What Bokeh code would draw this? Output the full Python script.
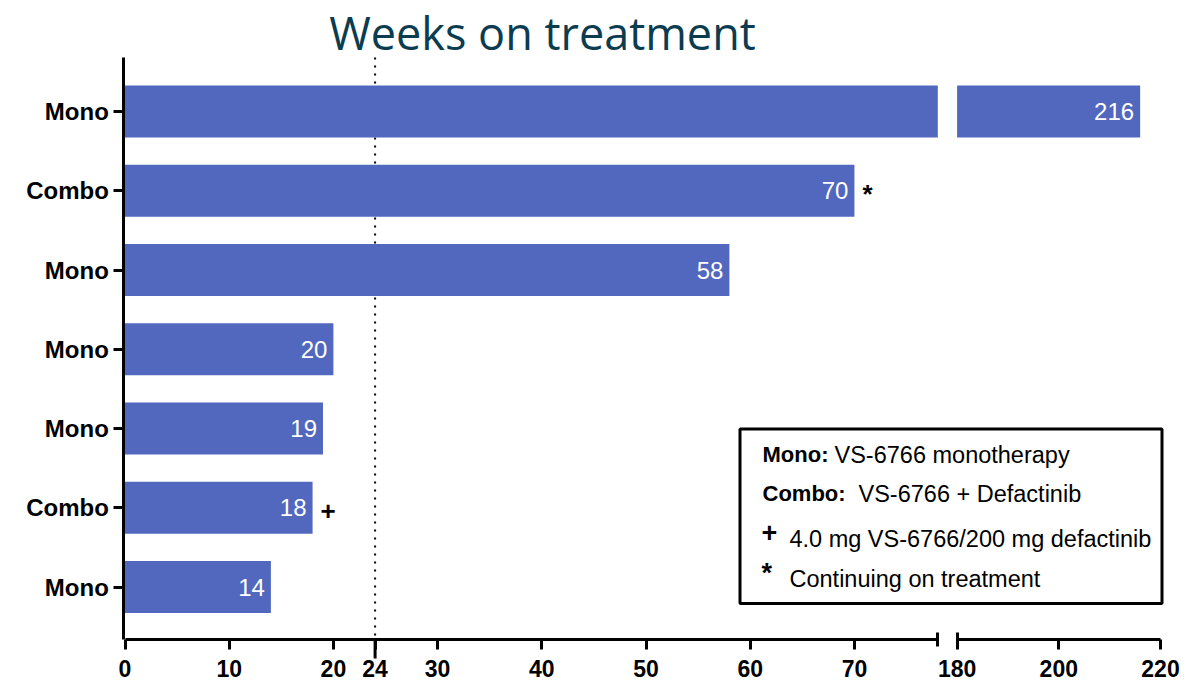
from bokeh.plotting import figure
from bokeh.models import (Range1d, LinearAxis, FixedTicker, BoxAnnotation,
                          ColumnDataSource)
from bokeh.core.properties import value
from bokeh.embed import file_html
from bokeh.resources import INLINE

# ---------------- data ----------------
arms = ["Mono", "Combo", "Mono", "Mono", "Mono", "Combo", "Mono"]
weeks = [216, 70, 58, 20, 19, 18, 14]
notes = ["", "*", "", "", "", "+", ""]
left_ticks = [0, 10, 20, 24, 30, 40, 50, 60, 70]
right_ticks = [180, 200, 220]
break_lo = 78
break_hi = 180
axis_max = 220
ref_week = 24
legend_keys = ["Mono:", "Combo:", "+", "*"]
legend_descs = ["VS-6766 monotherapy", "VS-6766 + Defactinib",
                "4.0 mg VS-6766/200 mg defactinib", "Continuing on treatment"]
title_text = "Weeks on treatment"

# ---------------- layout (pixel anchors, canvas px) ----------------
W, H = 1200, 682
X0, XLO, XHI, XMAX = 124.5, 937.3, 956.6, 1160.0
YTOP, ROW0, ROWSTEP, YAXIS = 57.0, 111.0, 79.25, 638.5

k1 = (XLO - X0) / break_lo
k2 = (XMAX - XHI) / (axis_max - break_hi)
# the frame spans the whole canvas; axes are pinned inside it
left_range = Range1d(-X0 / k1, (W - X0) / k1)
right_range = Range1d(break_hi - XHI / k2, axis_max + (W - XMAX) / k2)

def xl(px):
    return (px - X0) / k1

def yl(py):
    return (py - ROW0) / ROWSTEP

y_top = yl(YTOP)
y_axis = yl(YAXIS)

BAR = "#5168BE"
FONT = "Liberation Sans"
rows = list(range(len(arms)))

p = figure(width=W, height=H, output_backend="svg", toolbar_location=None,
           x_range=left_range, y_range=Range1d(yl(H), yl(0)),
           min_border_left=0, min_border_right=0,
           min_border_top=0, min_border_bottom=0,
           x_axis_type=None, y_axis_type=None)
p.extra_x_ranges = {"right": right_range}
p.outline_line_color = None
p.xgrid.visible = False
p.ygrid.visible = False
p.background_fill_color = "white"
p.border_fill_color = "white"

# title
p.text(x=[xl(542)], y=[yl(31.5)], text=[title_text], text_align="center",
       text_baseline="middle", text_color="#0b3c50",
       text_font=value("Open Sans"), text_font_size="45px")

# ---------------- axes ----------------
def style_axis(ax):
    ax.axis_line_width = 3
    ax.axis_line_color = "black"
    ax.major_tick_line_width = 3
    ax.major_tick_line_color = "black"
    ax.major_tick_out = 10
    ax.major_tick_in = 0
    ax.minor_tick_line_width = 3
    ax.minor_tick_line_color = "black"
    ax.minor_tick_in = 7
    ax.minor_tick_out = 7
    ax.major_label_text_font = FONT
    ax.major_label_text_font_style = "bold"
    ax.major_label_text_font_size = "23px"
    ax.major_label_text_color = "black"
    ax.major_label_standoff = 11

yax = LinearAxis(ticker=FixedTicker(ticks=rows),
                 major_label_overrides={i: a for i, a in enumerate(arms)},
                 bounds=(y_top, y_axis), fixed_location=xl(123.3))
style_axis(yax)
yax.minor_tick_in = 0
yax.minor_tick_out = 0
yax.major_label_standoff = 5
yax.major_label_text_font_size = "24px"
p.add_layout(yax, "left")

xax1 = LinearAxis(ticker=FixedTicker(ticks=left_ticks, minor_ticks=[break_lo]),
                  bounds=(0, break_lo), fixed_location=y_axis)
style_axis(xax1)
p.add_layout(xax1, "below")

xax2 = LinearAxis(x_range_name="right",
                  ticker=FixedTicker(ticks=right_ticks, minor_ticks=[break_hi]),
                  bounds=(break_hi, axis_max), fixed_location=y_axis)
style_axis(xax2)
p.add_layout(xax2, "below")

# ---------------- reference line (24 weeks) ----------------
p.segment(x0=[ref_week], x1=[ref_week], y0=[y_top], y1=[y_axis],
          line_color="black", line_width=2, line_dash="2 6")
p.segment(x0=[ref_week], x1=[ref_week], y0=[y_axis], y1=[yl(658)],
          line_color="black", line_width=3)

# ---------------- bars ----------------
seg1 = ColumnDataSource(dict(y=rows, r=[min(w, break_lo) for w in weeks]))
p.hbar(y="y", left=0, right="r", height=0.656, source=seg1,
       fill_color=BAR, line_color=None)

long_rows = [i for i, w in enumerate(weeks) if w > break_hi]
seg2 = ColumnDataSource(dict(y=long_rows, r=[weeks[i] for i in long_rows]))
p.hbar(y="y", left=break_hi, right="r", height=0.656, source=seg2,
       fill_color=BAR, line_color=None, x_range_name="right")

# value labels and footnote marks
short = [i for i, w in enumerate(weeks) if w <= break_lo]
lab1 = ColumnDataSource(dict(x=[weeks[i] for i in short], y=short,
                             t=[str(weeks[i]) for i in short],
                             n=[notes[i] for i in short]))
lab2 = ColumnDataSource(dict(x=[weeks[i] for i in long_rows], y=long_rows,
                             t=[str(weeks[i]) for i in long_rows],
                             n=[notes[i] for i in long_rows]))
for src, rng in ((lab1, "default"), (lab2, "right")):
    p.text(x="x", y="y", text="t", source=src, x_range_name=rng,
           text_align="right", text_baseline="middle", x_offset=-6,
           text_color="white", text_font=value(FONT), text_font_size="24px")
    p.text(x="x", y="y", text="n", source=src, x_range_name=rng,
           text_align="left", text_baseline="middle", x_offset=8, y_offset=3,
           text_color="black", text_font=value(FONT), text_font_size="26px",
           text_font_style="bold")

# ---------------- legend box ----------------
p.add_layout(BoxAnnotation(left=xl(739.5), right=xl(1161.5), top=yl(428.5), bottom=yl(603),
                           fill_color="white", fill_alpha=1.0,
                           line_color="black", line_alpha=1.0, line_width=3,
                           level="underlay"))
p.text(x=[xl(762)] * 2, y=[yl(454), yl(493)], text=legend_keys[:2],
       text_align="left", text_baseline="middle", text_color="black",
       text_font=value(FONT), text_font_size="22px", text_font_style="bold")
p.text(x=[xl(761)] * 2, y=[yl(532), yl(572)], text=legend_keys[2:],
       text_align="left", text_baseline="middle", text_color="black",
       text_font=value(FONT), text_font_size="27px", text_font_style="bold")
p.text(x=[xl(834), xl(858), xl(789), xl(789)],
       y=[yl(454), yl(493), yl(538), yl(578)], text=legend_descs,
       text_align="left", text_baseline="middle", text_color="black",
       text_font=value(FONT), text_font_size="23.5px")

open("out.html", "w").write(file_html(p, INLINE))
